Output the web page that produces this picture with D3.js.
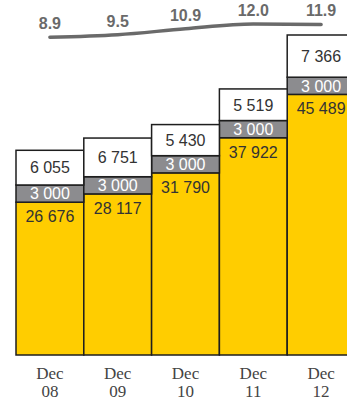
<!DOCTYPE html>
<html>
<head>
<meta charset="utf-8">
<script src="https://cdn.jsdelivr.net/npm/d3@7"></script>
<style>
  html, body { margin: 0; padding: 0; background: #fff; }
  svg { display: block; }
</style>
</head>
<body>
<svg id="chart" width="347" height="403"></svg>
<script>
// Period labels (two lines each)
const periods = ["Dec 08", "Dec 09", "Dec 10", "Dec 11", "Dec 12"];
// Stacked segments, bottom to top
const baseValues = [26676, 28117, 31790, 37922, 45489];
const midValues = [3000, 3000, 3000, 3000, 3000];
const topValues = [6055, 6751, 5430, 5519, 7366];
// Ratio line drawn above the bars
const ratioValues = [8.9, 9.5, 10.9, 12.0, 11.9];

const segments = [
  { key: "base", values: baseValues, fill: "#FFCD00", text: "#333" },
  { key: "mid", values: midValues, fill: "#8C8C8F", text: "#fff" },
  { key: "top", values: topValues, fill: "#fff", text: "#333" }
];

const svg = d3.select("#chart");
const fmt = v => d3.format(",")(v).replace(/,/g, "\u00a0");

const x = d3.scaleBand().domain(periods).range([16, 355]).padding(0);
const y = d3.scaleLinear().domain([0, 55855]).range([355, 35]);
const yr = d3.scaleLinear().domain([8, 13]).range([41.2, 19.7]);

// Build stacked rows
const rows = periods.map((p, i) => ({ period: p, base: baseValues[i], mid: midValues[i], top: topValues[i] }));
const stacked = d3.stack().keys(["base", "mid", "top"])(rows);

const g = svg.append("g");
stacked.forEach((layer, li) => {
  const seg = segments[li];
  layer.forEach(d => {
    const x0 = x(d.data.period);
    const y0 = y(d[1]);
    const h = y(d[0]) - y(d[1]);
    g.append("rect")
      .attr("x", x0).attr("y", y0)
      .attr("width", x.bandwidth()).attr("height", h)
      .attr("fill", seg.fill)
      .attr("stroke", "#1e1e1e").attr("stroke-width", 1.5);
    let ty;
    if (seg.key === "base") ty = y0 + 20;
    else ty = y0 + h / 2 + 5.8;
    g.append("text")
      .attr("x", x0 + x.bandwidth() / 2).attr("y", ty)
      .attr("text-anchor", "middle")
      .attr("font-family", "'Liberation Sans', Arial, sans-serif")
      .attr("font-size", 16)
      .attr("fill", seg.text)
      .text(fmt(d.data[seg.key]));
  });
});

// Ratio line
const line = d3.line()
  .x((d, i) => x(periods[i]) + x.bandwidth() / 2)
  .y(d => yr(d))
  .curve(d3.curveMonotoneX);
svg.append("path")
  .attr("d", line(ratioValues))
  .attr("fill", "none")
  .attr("stroke", "#6a6a6a")
  .attr("stroke-width", 3.5)
  .attr("stroke-linecap", "round");

svg.selectAll(".ratio")
  .data(ratioValues)
  .enter().append("text")
  .attr("x", (d, i) => x(periods[i]) + x.bandwidth() / 2)
  .attr("y", d => yr(d) - 8)
  .attr("text-anchor", "middle")
  .attr("font-family", "'Liberation Sans', Arial, sans-serif")
  .attr("font-weight", "bold")
  .attr("font-size", 16)
  .attr("fill", "#6a6a6a")
  .text(d => d3.format(".1f")(d));

// Period labels
periods.forEach(p => {
  const [m, yrLabel] = p.split(" ");
  const cx = x(p) + x.bandwidth() / 2;
  const t = svg.append("text")
    .attr("text-anchor", "middle")
    .attr("font-family", "'Liberation Serif', 'Times New Roman', serif")
    .attr("font-size", 17)
    .attr("fill", "#444");
  t.append("tspan").attr("x", cx).attr("y", 379).text(m);
  t.append("tspan").attr("x", cx).attr("y", 397).text(yrLabel);
});
</script>
</body>
</html>
